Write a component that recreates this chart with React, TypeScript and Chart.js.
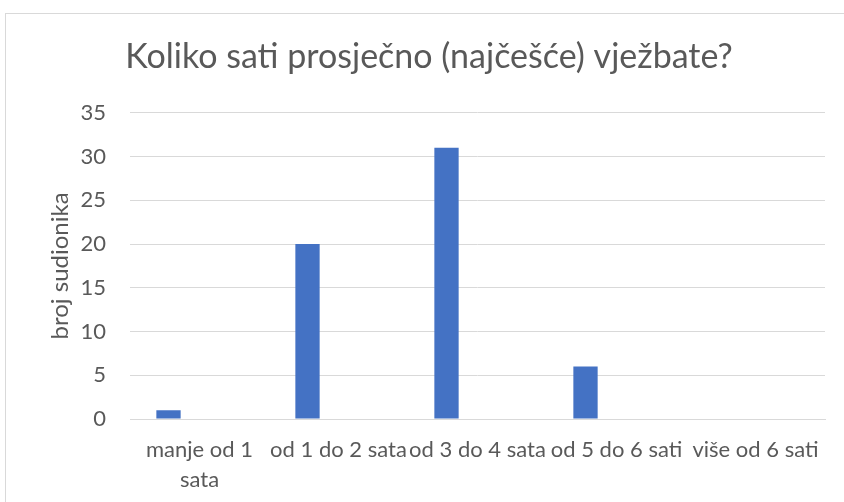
import React, { useEffect, useRef } from 'react';
import { Chart, registerables } from 'chart.js';
Chart.register(...registerables);

const chartTitle = 'Koliko sati prosječno (najčešće) vježbate?';
const yAxisTitle = 'broj sudionika';
const categories: (string | string[])[] = [
  ['manje od 1', 'sata'],
  'od 1 do 2 sata',
  'od 3 do 4 sata',
  'od 5 do 6 sati',
  'više od 6 sati',
];
const participants = [1, 20, 31, 6, 0];
const emptySeries = [null, null, null, null, null];
const yMax = 35;
const yStep = 5;

const FONT = 'Lato, "Open Sans", sans-serif';
const TEXT = '#595959';
const GRID = '#d9d9d9';

export default function App() {
  const ref = useRef<HTMLCanvasElement>(null);
  useEffect(() => {
    document.body.style.margin = '0';
    const chart = new Chart(ref.current as HTMLCanvasElement, {
      type: 'bar',
      data: {
        labels: categories,
        datasets: [
          {
            label: 'broj sudionika',
            data: participants,
            backgroundColor: '#4472C4',
            borderWidth: 0,
            barPercentage: 0.392,
            categoryPercentage: 0.892,
          },
          {
            label: '',
            data: emptySeries as any,
            backgroundColor: '#ED7D31',
            barPercentage: 0.392,
            categoryPercentage: 0.892,
          },
        ],
      },
      options: {
        responsive: false,
        animation: false,
        devicePixelRatio: 1,
        layout: { padding: 0 },
        plugins: {
          legend: { display: false },
          tooltip: { enabled: false },
          title: {
            display: true,
            text: chartTitle,
            color: TEXT,
            font: { family: FONT, size: 34, weight: '400' as any, lineHeight: 1.2 },
            padding: { top: 24, bottom: 35 },
          },
        },
        scales: {
          x: {
            grid: { display: false, drawTicks: false },
            border: { display: true, color: GRID, width: 1 },
            ticks: {
              color: TEXT,
              font: { family: FONT, size: 22, lineHeight: 1.35 },
              padding: 16,
              maxRotation: 0,
              minRotation: 0,
              autoSkip: false,
            },
            afterFit: (s: any) => {
              s.height = 94;
            },
          },
          y: {
            min: 0,
            max: yMax,
            ticks: {
              stepSize: yStep,
              color: TEXT,
              font: { family: FONT, size: 22 },
              padding: 24,
            },
            grid: { color: GRID, lineWidth: 1, drawTicks: false },
            border: { display: false },
            title: {
              display: true,
              text: yAxisTitle,
              color: TEXT,
              font: { family: FONT, size: 24, lineHeight: 1.2 },
              padding: { top: 41, bottom: 0 },
            },
            afterFit: (s: any) => {
              s.width = 125;
            },
          },
          y2: {
            position: 'right',
            display: true,
            grid: { display: false, drawTicks: false },
            border: { display: false },
            ticks: { display: false },
            afterFit: (s: any) => {
              s.width = 28;
            },
          },
        },
      },
    } as any);
    return () => chart.destroy();
  }, []);
  return (
    <div
      style={{
        position: 'absolute',
        left: 0,
        top: 0,
        width: 844,
        height: 502,
        overflow: 'hidden',
        background: '#ffffff',
      }}
    >
      <canvas
        ref={ref}
        width={848}
        height={500}
        style={{ position: 'absolute', left: 5, top: 13, width: 848, height: 500, display: 'block' }}
      />
      <div
        style={{
          position: 'absolute',
          left: 5,
          top: 13,
          width: 860,
          height: 500,
          border: `1px solid ${GRID}`,
          boxSizing: 'border-box',
          pointerEvents: 'none',
        }}
      />
    </div>
  );
}
